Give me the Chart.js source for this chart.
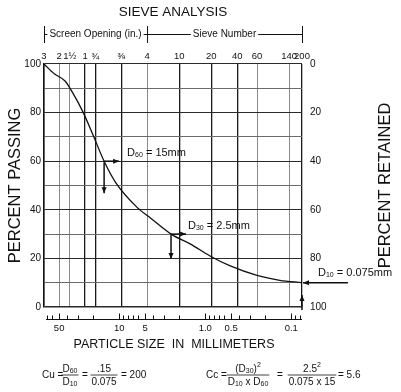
<!DOCTYPE html>
<html>
<head>
<meta charset="utf-8">
<script src="https://cdn.jsdelivr.net/npm/chart.js@4.4.0/dist/chart.umd.min.js"></script>
<style>
  html, body { margin: 0; padding: 0; background: #fff; }
  #wrap { width: 401px; height: 392px; position: relative; }
</style>
</head>
<body>
<div id="wrap"><canvas id="gradation"></canvas></div>
<script>
// Grain size curve (particle size in mm, percent passing)
const sizeMm = [75, 57, 42.7, 34.6, 26.2, 20.3, 15, 10.9, 6.2, 4.3, 2.5, 1.5, 0.88, 0.52, 0.25, 0.136, 0.075];
const percentPassing = [100, 96, 93, 88, 80, 71, 60, 51, 41, 36.5, 30, 26, 21, 17, 13, 11, 10];

// Sieve openings along the top (mm) and their labels
const sieveMm = [75, 50, 37.5, 25, 19, 9.5, 4.75, 2.0, 0.85, 0.425, 0.25, 0.106, 0.075];
const sieveLabels = ['3', '2', '1½', '1', '¾', '⅜', '4', '10', '20', '40', '60', '140', '200'];

// Bottom millimetre scale
const mmTicks = [50, 10, 5, 1, 0.5, 0.1];
const mmLabels = ['50', '10', '5', '1.0', '0.5', '0.1'];

// Characteristic sizes
const dSizes = [{ name: '60', mm: 15, pct: 60, text: ' = 15mm' },
                { name: '30', mm: 2.5, pct: 30, text: ' = 2.5mm' },
                { name: '10', mm: 0.075, pct: 10, text: ' = 0.075mm' }];

const FONT = "'Liberation Sans', Arial, sans-serif";
const lightSieves = ['2', '1½', '4', '60', '140'];

function arrow(ctx, x1, y1, x2, y2) {
    const a = Math.atan2(y2 - y1, x2 - x1);
    ctx.beginPath();
    ctx.moveTo(x1, y1);
    ctx.lineTo(x2, y2);
    ctx.stroke();
    ctx.beginPath();
    ctx.moveTo(x2, y2);
    ctx.lineTo(x2 - 6 * Math.cos(a) + 2.5 * Math.sin(a), y2 - 6 * Math.sin(a) - 2.5 * Math.cos(a));
    ctx.lineTo(x2 - 6 * Math.cos(a) - 2.5 * Math.sin(a), y2 - 6 * Math.sin(a) + 2.5 * Math.cos(a));
    ctx.closePath();
    ctx.fill();
}

// D with subscript, returns end x
function drawD(ctx, x, y, sub, rest, size) {
    ctx.textAlign = 'left';
    ctx.textBaseline = 'middle';
    ctx.font = size + 'px ' + FONT;
    ctx.fillText('D', x, y);
    let w = ctx.measureText('D').width;
    ctx.font = Math.round(size * 0.6) + 'px ' + FONT;
    ctx.fillText(sub, x + w, y + size * 0.2);
    w += ctx.measureText(sub).width;
    ctx.font = size + 'px ' + FONT;
    if (rest) {
        ctx.fillText(rest, x + w, y);
        w += ctx.measureText(rest).width;
    }
    return x + w;
}

function frac(ctx, cx, y, top, bottom, size) {
    // top/bottom are arrays of [text, isSub]
    const widthOf = parts => parts.reduce((s, p) => {
        ctx.font = (p[1] ? Math.round(size * 0.65) : size) + 'px ' + FONT;
        return s + ctx.measureText(p[0]).width;
    }, 0);
    const put = (parts, yy) => {
        let x = cx - widthOf(parts) / 2;
        parts.forEach(p => {
            ctx.font = (p[1] ? Math.round(size * 0.65) : size) + 'px ' + FONT;
            const dy = p[1] === 'sup' ? -size * 0.35 : (p[1] ? size * 0.2 : 0);
            ctx.textAlign = 'left';
            ctx.fillText(p[0], x, yy + dy);
            x += ctx.measureText(p[0]).width;
        });
    };
    const w = Math.max(widthOf(top), widthOf(bottom));
    ctx.beginPath();
    ctx.moveTo(cx - w / 2 - 1, y);
    ctx.lineTo(cx + w / 2 + 1, y);
    ctx.stroke();
    ctx.textBaseline = 'middle';
    put(top, y - 6);
    put(bottom, y + 7);
}

const decorations = {
    id: 'decorations',
    afterDraw(chart) {
        const ctx = chart.ctx;
        const xs = chart.scales.x;
        const xb = chart.scales.xBottom;
        const ys = chart.scales.y;
        const area = chart.chartArea;
        ctx.save();
        ctx.fillStyle = '#111';
        ctx.strokeStyle = '#111';

        // Title
        ctx.font = '13.5px ' + FONT;
        ctx.textAlign = 'center';
        ctx.textBaseline = 'middle';
        ctx.fillText('SIEVE ANALYSIS', 173, 12);

        // Screen opening / sieve number bracket
        const xl = xs.getPixelForValue(sieveMm[0]);
        const xm = xs.getPixelForValue(4.75);
        const xr = xs.getPixelForValue(0.075);
        ctx.lineWidth = 1;
        [xl, xm, xr].forEach(x => {
            ctx.beginPath(); ctx.moveTo(x + 0.5, 26); ctx.lineTo(x + 0.5, 43); ctx.stroke();
        });
        ctx.font = '10px ' + FONT;
        const t1 = 'Screen Opening (in.)', t2 = 'Sieve Number';
        const c1 = (xl + xm) / 2, c2 = (xm + xr) / 2;
        const w1 = ctx.measureText(t1).width, w2 = ctx.measureText(t2).width;
        ctx.fillText(t1, c1, 34);
        ctx.fillText(t2, c2, 34);
        ctx.beginPath();
        ctx.moveTo(xl, 34.5); ctx.lineTo(c1 - w1 / 2 - 2, 34.5);
        ctx.moveTo(c1 + w1 / 2 + 2, 34.5); ctx.lineTo(xm, 34.5);
        ctx.moveTo(xm, 34.5); ctx.lineTo(c2 - w2 / 2 - 2, 34.5);
        ctx.moveTo(c2 + w2 / 2 + 2, 34.5); ctx.lineTo(xr, 34.5);
        ctx.stroke();

        // Axis titles
        ctx.font = '16.5px ' + FONT;
        ctx.save();
        ctx.translate(15, (area.top + area.bottom) / 2);
        ctx.rotate(-Math.PI / 2);
        ctx.fillText('PERCENT PASSING', 0, 0);
        ctx.restore();
        ctx.save();
        ctx.translate(385, (area.top + area.bottom) / 2);
        ctx.rotate(-Math.PI / 2);
        ctx.fillText('PERCENT RETAINED', 0, 0);
        ctx.restore();
        ctx.font = '12.5px ' + FONT;
        ctx.fillText('PARTICLE SIZE  IN  MILLIMETERS', 174, 345);

        // Bottom ruler
        const ry = area.bottom + 12.5;
        ctx.beginPath();
        ctx.moveTo(area.left + 2, ry); ctx.lineTo(area.right, ry);
        [0.1, 1, 10].forEach(dec => {
            for (let k = 1; k <= 9; k++) {
                const v = dec * k;
                if (v > 75) continue;
                const x = Math.round(xb.getPixelForValue(v)) + 0.5;
                const h = mmTicks.includes(v) ? 6 : 4;
                ctx.moveTo(x, ry); ctx.lineTo(x, ry - h);
            }
        });
        [0.08, 0.09].forEach(v => {
            const x = Math.round(xb.getPixelForValue(v)) + 0.5;
            ctx.moveTo(x, ry); ctx.lineTo(x, ry - 4);
        });
        ctx.stroke();

        // D60, D30, D10 markers
        ctx.lineWidth = 1.5;
        dSizes.forEach((d, i) => {
            const px = xs.getPixelForValue(d.mm);
            const py = ys.getPixelForValue(d.pct);
            if (i < 2) {
                arrow(ctx, px, py, px + 15, py);
                arrow(ctx, px, py + 1, px, py + (i === 0 ? 32 : 25));
                drawD(ctx, px + (i === 0 ? 23 : 17), py - 8, d.name, d.text, 11);
            } else {
                arrow(ctx, px + 46, py, px + 1, py);
                arrow(ctx, px, area.bottom + 3, px, area.bottom - 12);
                drawD(ctx, px + 16, py - 10, d.name, d.text, 11);
            }
        });

        // Coefficients
        ctx.lineWidth = 0.8;
        const fy = 375;
        ctx.font = '10px ' + FONT;
        ctx.textBaseline = 'middle';
        ctx.textAlign = 'left';
        ctx.fillText('Cu =', 42, fy);
        frac(ctx, 70, fy, [['D'], ['60', true]], [['D'], ['10', true]], 10);
        ctx.font = '10px ' + FONT; ctx.textAlign = 'left';
        ctx.fillText('=', 82, fy);
        frac(ctx, 104, fy, [['.15']], [['0.075']], 10);
        ctx.font = '10px ' + FONT; ctx.textAlign = 'left';
        ctx.fillText('= 200', 121, fy);

        ctx.fillText('Cc =', 206, fy);
        frac(ctx, 248, fy, [['(D'], ['30', true], [')'], ['2', 'sup']], [['D'], ['10', true], [' x D'], ['60', true]], 10);
        ctx.font = '10px ' + FONT; ctx.textAlign = 'left';
        ctx.fillText('=', 277, fy);
        frac(ctx, 312, fy, [['2.5'], ['2', 'sup']], [['0.075 x 15']], 10);
        ctx.font = '10px ' + FONT; ctx.textAlign = 'left';
        ctx.fillText('= 5.6', 338, fy);

        ctx.restore();
    }
};

const ctx = document.getElementById('gradation').getContext('2d');
const gradationChart = new Chart(ctx, {
    type: 'line',
    data: {
        datasets: [{
            data: sizeMm.map((s, i) => ({ x: s, y: percentPassing[i] })),
            borderColor: '#111',
            borderWidth: 1.3,
            pointRadius: 0,
            cubicInterpolationMode: 'monotone',
            fill: false,
            xAxisID: 'x',
            yAxisID: 'y'
        }]
    },
    options: {
        responsive: true,
        maintainAspectRatio: false,
        animation: false,
        layout: { padding: 0 },
        plugins: { legend: { display: false }, tooltip: { enabled: false } },
        scales: {
            x: {
                type: 'logarithmic',
                position: 'top',
                reverse: true,
                min: 0.075,
                max: 75,
                afterBuildTicks: scale => { scale.ticks = sieveMm.map(v => ({ value: v })); },
                afterFit: scale => { scale.height = 64; },
                ticks: {
                    autoSkip: false,
                    maxRotation: 0,
                    minRotation: 0,
                    padding: 2,
                    color: '#111',
                    font: { family: FONT, size: 9.5 },
                    callback: (v, i) => sieveLabels[i]
                },
                grid: {
                    drawTicks: false,
                    color: c => lightSieves.includes(sieveLabels[c.index]) ? '#8a8a8a' : '#1a1a1a',
                    lineWidth: c => lightSieves.includes(sieveLabels[c.index]) ? 1 : 1.3
                },
                border: { display: false }
            },
            xBottom: {
                type: 'logarithmic',
                position: 'bottom',
                reverse: true,
                min: 0.075,
                max: 75,
                afterBuildTicks: scale => { scale.ticks = mmTicks.map(v => ({ value: v })); },
                afterFit: scale => { scale.height = 85; },
                ticks: {
                    autoSkip: false,
                    maxRotation: 0,
                    minRotation: 0,
                    padding: 8,
                    color: '#111',
                    font: { family: FONT, size: 9.5 },
                    callback: (v, i) => mmLabels[i]
                },
                grid: { display: false },
                border: { display: false }
            },
            y: {
                position: 'left',
                min: 0,
                max: 100,
                afterFit: scale => { scale.width = 44; },
                ticks: {
                    stepSize: 10,
                    padding: 3,
                    color: '#111',
                    font: { family: FONT, size: 10 },
                    callback: v => (v % 20 === 0 ? String(v) : '')
                },
                grid: {
                    drawTicks: false,
                    color: c => (c.tick.value % 20 === 0 ? '#2a2a2a' : '#6a6a6a'),
                    lineWidth: c => (c.tick.value === 0 ? 1.5 : 1.1)
                },
                border: { display: true, color: '#111', width: 1.5 }
            },
            y2: {
                position: 'right',
                reverse: true,
                min: 0,
                max: 100,
                afterFit: scale => { scale.width = 99; },
                ticks: {
                    stepSize: 20,
                    padding: 0,
                    color: '#111',
                    font: { family: FONT, size: 10 }
                },
                grid: { display: false, drawOnChartArea: false },
                border: { display: false }
            }
        }
    },
    plugins: [decorations]
});
</script>
</body>
</html>
